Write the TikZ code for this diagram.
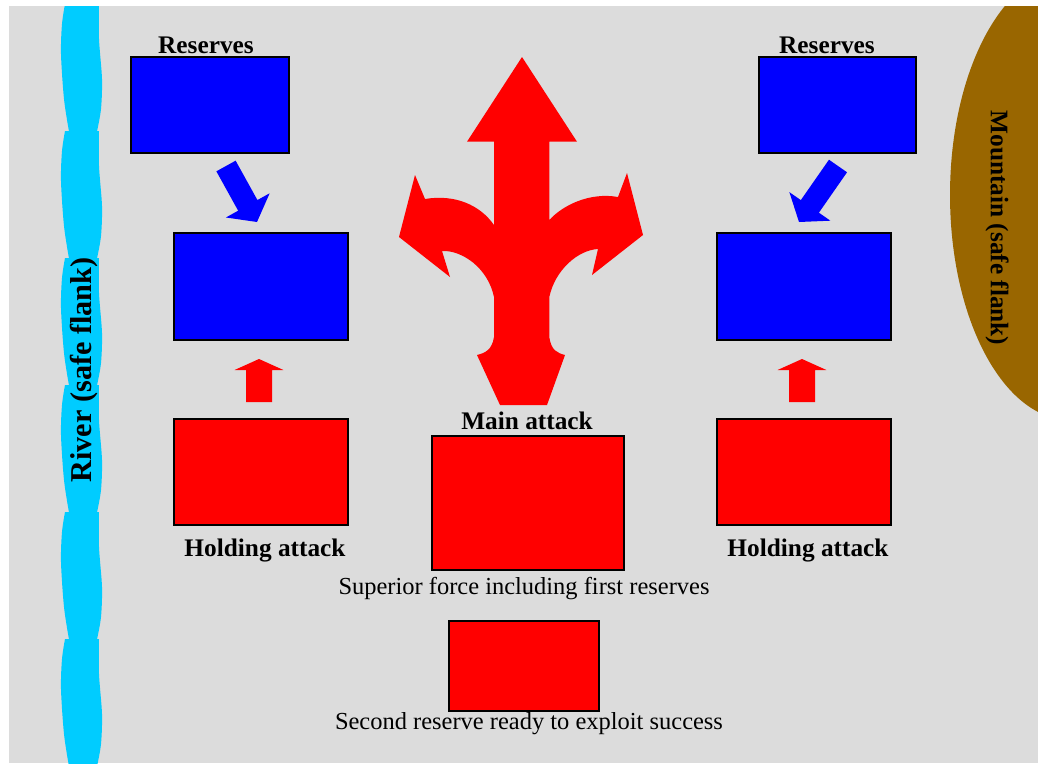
\documentclass[tikz,border=0pt]{standalone}
\usepackage{fontspec}
\setmainfont{Liberation Serif}
\usetikzlibrary{calc}
\definecolor{bgc}{HTML}{DCDCDC}
\definecolor{riverc}{HTML}{00CCFF}
\definecolor{mountc}{HTML}{996600}
\definecolor{redc}{HTML}{FF0000}
\definecolor{bluec}{HTML}{0000FF}
\tikzset{
  box/.style={draw=black, line width=1.4pt, inner sep=0pt, outer sep=0pt},
  bluebox/.style={box, fill=bluec},
  redbox/.style={box, fill=redc},
  boldlabel/.style={font=\fontsize{18}{20}\selectfont\bfseries, inner sep=0pt},
  sidelabel/.style={font=\fontsize{21.5}{24}\selectfont\bfseries, inner sep=0pt},
  plainlabel/.style={font=\fontsize{17.4}{20}\selectfont, inner sep=0pt},
  bluearrow/.style={fill=bluec},
  redarrow/.style={fill=redc},
}
% #1 style, #2 tail, #3 tip, #4 shaft half width, #5 head half width, #6 head length
\newcommand\blockarrow[6]{%
  \coordinate (#3-base) at ($(#3)!#6!(#2)$);
  \fill[#1] ($(#2)!#4!90:(#3)$) -- ($(#3-base)!#4!-90:(#2)$) -- ($(#3-base)!#5!-90:(#2)$)
     -- (#3) -- ($(#3-base)!#5!90:(#2)$) -- ($(#3-base)!#4!90:(#2)$) -- ($(#2)!#4!-90:(#3)$) -- cycle;
}
\begin{document}
\begin{tikzpicture}[x=0.025cm,y=-0.025cm]
\useasboundingbox (0,0) rectangle (1038,763);
\fill[white] (0,0) rectangle (1038,763);
\fill[bgc] (9,6) rectangle (1038,763);
\begin{scope}
  \clip (9,6) rectangle (1038,763);
  \fill[mountc] (1070,195) ellipse [x radius=120, y radius=225];
  \foreach \y in {4,131,258,385,512,639} {
    \fill[riverc, shift={(0,\y)}] plot[smooth] coordinates {(65,0)(62,20)(61,50)(64,95)(69,127.5)}
      -- plot[smooth] coordinates {(97,127.5)(101,105)(102,75)(99,35)(99,0)} -- cycle;
  }
\end{scope}

% boxes
\node[bluebox, minimum width=3.95cm, minimum height=2.4cm] (resTL) at (210,105) {};
\node[bluebox, minimum width=3.925cm, minimum height=2.4cm] (resTR) at (837.5,105) {};
\node[bluebox, minimum width=4.35cm, minimum height=2.675cm] (defL) at (261,286.5) {};
\node[bluebox, minimum width=4.35cm, minimum height=2.675cm] (defR) at (804,286.5) {};
\node[redbox, minimum width=4.35cm, minimum height=2.65cm] (holdBoxL) at (261,472) {};
\node[redbox, minimum width=4.35cm, minimum height=2.65cm] (holdBoxR) at (804,472) {};
\node[redbox, minimum width=4.8cm, minimum height=3.35cm] (mainBox) at (528,503) {};
\node[redbox, minimum width=3.75cm, minimum height=2.25cm] (secBox) at (524,666) {};

% small arrows
\coordinate (blL-t) at (226,166); \coordinate (blL) at (257,222);
\coordinate (blR-t) at (838,166); \coordinate (blR) at (799,222);
\coordinate (rdL-t) at (259,402); \coordinate (rdL) at (259,359);
\coordinate (rdR-t) at (802,402); \coordinate (rdR) at (802,359);
\blockarrow{bluearrow}{blL-t}{blL}{0.275cm}{0.625cm}{0.475cm}
\blockarrow{bluearrow}{blR-t}{blR}{0.275cm}{0.625cm}{0.475cm}
\blockarrow{redarrow}{rdL-t}{rdL}{0.325cm}{0.61cm}{0.275cm}
\blockarrow{redarrow}{rdR-t}{rdR}{0.325cm}{0.61cm}{0.275cm}

% main attack trident arrow
\fill[redc] (494,141.7) -- (494,225)
  .. controls (480,205) and (455,194) .. (425,199)
  -- (415,175) -- (399,237) -- (450,277) -- (442,251)
  .. controls (462,250) and (488,268) .. (494,297)
  -- (494,337) .. controls (492,350) and (485,353) .. (477,355)
  -- (500,405) -- (547,405) -- (565,355)
  .. controls (557,353) and (551,350) .. (549.3,337)
  -- (549.3,297) .. controls (555,270) and (578,250) .. (598,249)
  -- (592,275) -- (643,235) -- (627,173) -- (618,197)
  .. controls (590,192) and (563,205) .. (549.3,220)
  -- (549.3,141.7) -- (577,141.7) -- (522,57) -- (467,141.7) -- cycle;

% labels
\node[boldlabel, anchor=base] (lblResL) at (206,53) {Reserves};
\node[boldlabel, anchor=base] (lblResR) at (827,53) {Reserves};
\node[boldlabel, anchor=base] (lblMain) at (527,429) {Main attack};
\node[boldlabel, anchor=base] (lblHoldL) at (265,556) {Holding attack};
\node[boldlabel, anchor=base] (lblHoldR) at (808,556) {Holding attack};
\node[plainlabel, anchor=base] (lblSup) at (524,594) {Superior force including first reserves};
\node[plainlabel, anchor=base] (lblSec) at (529,729) {Second reserve ready to exploit success};
\node[sidelabel, rotate=90] (lblRiver) at (84,370) {River (safe flank)};
\node[boldlabel, rotate=-90] (lblMount) at (997,228) {Mountain (safe flank)};
\end{tikzpicture}
\end{document}
